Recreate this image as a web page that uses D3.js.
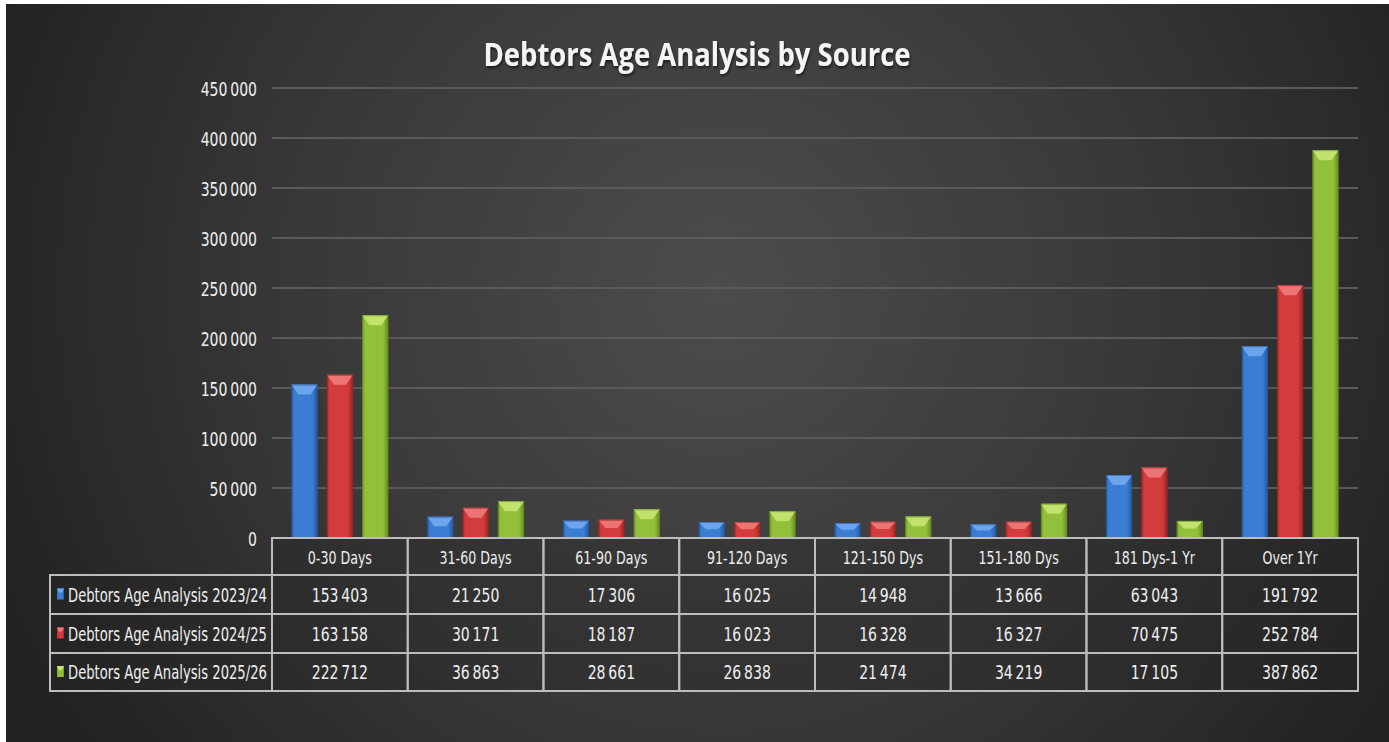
<!DOCTYPE html>
<html>
<head>
<meta charset="utf-8">
<script src="https://cdn.jsdelivr.net/npm/d3@7"></script>
<style>
  html, body { margin: 0; padding: 0; background: #fff; }
  svg { display: block; }
  .narrow { font-family: "DejaVu Sans Condensed", "DejaVu Sans", sans-serif; }
</style>
</head>
<body>
<div id="chart"></div>
<script>
const categories = ["0-30 Days", "31-60 Days", "61-90 Days", "91-120 Days", "121-150 Dys", "151-180 Dys", "181 Dys-1 Yr", "Over 1Yr"];
const seriesNames = ["Debtors Age Analysis 2023/24", "Debtors Age Analysis 2024/25", "Debtors Age Analysis 2025/26"];
const values2023 = [153403, 21250, 17306, 16025, 14948, 13666, 63043, 191792];
const values2024 = [163158, 30171, 18187, 16023, 16328, 16327, 70475, 252784];
const values2025 = [222712, 36863, 28661, 26838, 21474, 34219, 17105, 387862];
const yTicks = [0, 50000, 100000, 150000, 200000, 250000, 300000, 350000, 400000, 450000];
const seriesColors = [
  {base: "#3b7dd2", light: "#72aaf0", dark: "#24579f"},
  {base: "#d33c3c", light: "#f07a7a", dark: "#9a2424"},
  {base: "#92c03a", light: "#c6e672", dark: "#668b22"}
];

const allSeries = [values2023, values2024, values2025];
const W = 1389, H = 742;
const SX = 0.78;           // horizontal squeeze, the original font is a narrow one
const textFill = "#eeeeee";
const fmt = v => d3.format(",")(v).replace(/,/g, "\u2009");

const svg = d3.select("#chart").append("svg").attr("width", W).attr("height", H);
const defs = svg.append("defs");

const bg = defs.append("radialGradient").attr("id", "bg")
  .attr("gradientUnits", "userSpaceOnUse")
  .attr("cx", 720).attr("cy", 290).attr("r", 780);
bg.append("stop").attr("offset", "0%").attr("stop-color", "#4c4c4c");
bg.append("stop").attr("offset", "55%").attr("stop-color", "#383838");
bg.append("stop").attr("offset", "100%").attr("stop-color", "#222");

seriesColors.forEach((c, i) => {
  const g = defs.append("linearGradient").attr("id", "bar" + i)
    .attr("x1", 0).attr("x2", 1).attr("y1", 0).attr("y2", 0);
  g.append("stop").attr("offset", "0%").attr("stop-color", c.dark);
  g.append("stop").attr("offset", "10%").attr("stop-color", c.base);
  g.append("stop").attr("offset", "30%").attr("stop-color", c.base);
  g.append("stop").attr("offset", "80%").attr("stop-color", c.base);
  g.append("stop").attr("offset", "100%").attr("stop-color", c.dark);
});

const shadow = defs.append("filter").attr("id", "shadow").attr("x", "-10%").attr("y", "-30%").attr("width", "120%").attr("height", "160%");
shadow.append("feDropShadow").attr("dx", 1).attr("dy", 2).attr("stdDeviation", 1.5).attr("flood-color", "#000").attr("flood-opacity", 0.6);

svg.append("rect").attr("x", 6).attr("y", 4).attr("width", W - 6).attr("height", H - 4).attr("fill", "url(#bg)");

function narrowText(parent, x, y, str, size, anchor, fitWidth) {
  const t = parent.append("text").attr("class", "narrow")
    .attr("text-anchor", anchor)
    .attr("fill", textFill)
    .style("font-size", size + "px")
    .text(str);
  const sx = fitWidth ? fitWidth / t.node().getComputedTextLength() : SX;
  t.attr("transform", `translate(${x},${y}) scale(${sx},1)`);
  return t;
}

// title
const title = svg.append("text")
  .attr("text-anchor", "middle")
  .attr("fill", "#f4f4f4")
  .attr("filter", "url(#shadow)")
  .style("font-family", "'Open Sans', sans-serif")
  .style("font-weight", 700)
  .style("font-size", "32px")
  .text("Debtors Age Analysis by Source");
const titleScale = 427 / title.node().getComputedTextLength();
title.attr("transform", `translate(697,66) scale(${titleScale},1)`);

const plotLeft = 272, plotRight = 1358, plotTop = 88, plotBottom = 538;

const x = d3.scaleBand().domain(categories).range([plotLeft, plotRight]).padding(0);
const x1 = d3.scaleBand().domain([0, 1, 2]).range([0, x.bandwidth()]).paddingInner(0.26).paddingOuter(0.55);
const y = d3.scaleLinear().domain([0, 450000]).range([plotBottom, plotTop]);

// grid
svg.append("g").selectAll("line").data(yTicks.filter(t => t > 0)).join("line")
  .attr("x1", plotLeft).attr("x2", plotRight)
  .attr("y1", d => y(d)).attr("y2", d => y(d))
  .attr("stroke", "#5a5a5a").attr("stroke-width", 2);

// y axis labels
const yAxis = svg.append("g").attr("transform", `translate(${plotLeft},0)`)
  .call(d3.axisLeft(y).tickValues(yTicks).tickFormat(fmt).tickSize(0).tickPadding(0));
yAxis.select(".domain").remove();
yAxis.selectAll("text")
  .attr("class", "narrow")
  .attr("x", -15 / SX)
  .attr("dy", "0.36em")
  .attr("transform", `scale(${SX},1)`)
  .attr("fill", textFill)
  .style("font-size", "20px");

// bars
const groups = svg.append("g").selectAll("g").data(categories).join("g")
  .attr("transform", d => `translate(${x(d)},0)`);

groups.each(function(cat, ci) {
  const g = d3.select(this);
  allSeries.forEach((vals, si) => {
    const c = seriesColors[si];
    const bx = x1(si), bw = x1.bandwidth();
    const by = y(vals[ci]), bh = plotBottom - by;
    const bev = Math.min(10, bh * 0.45), ins = Math.min(8, bw * 0.27);
    g.append("rect")
      .attr("x", bx).attr("y", by).attr("width", bw).attr("height", bh)
      .attr("fill", `url(#bar${si})`);
    // top bevel
    g.append("path")
      .attr("d", `M${bx},${by} L${bx + bw},${by} L${bx + bw - ins},${by + bev} L${bx + ins},${by + bev} Z`)
      .attr("fill", c.light).attr("opacity", 0.9);
    // thin dark outline like the original's edge
    g.append("rect")
      .attr("x", bx + 0.5).attr("y", by + 0.5).attr("width", bw - 1).attr("height", bh - 0.5)
      .attr("fill", "none").attr("stroke", c.dark).attr("stroke-opacity", 0.6).attr("stroke-width", 1);
  });
});

// data table
const tableLeft = 50;
const rowEdges = [538, 575, 614, 653, 691];
const lineColor = "#bdbdbd";
const table = svg.append("g");

function cell(xp, y0, w, h) {
  table.append("rect").attr("x", xp).attr("y", y0).attr("width", w).attr("height", h)
    .attr("fill", "#262626").attr("fill-opacity", 0.35)
    .attr("stroke", lineColor).attr("stroke-width", 2);
}

categories.forEach(c => {
  cell(x(c), rowEdges[0], x.bandwidth(), rowEdges[1] - rowEdges[0]);
  narrowText(table, x(c) + x.bandwidth() / 2, (rowEdges[0] + rowEdges[1]) / 2 + 7, c, 18, "middle");
});

allSeries.forEach((vals, si) => {
  const y0 = rowEdges[si + 1], y1 = rowEdges[si + 2], cy = (y0 + y1) / 2;
  cell(tableLeft, y0, plotLeft - tableLeft, y1 - y0);
  // legend key
  table.append("rect").attr("x", 57).attr("y", cy - 6).attr("width", 7).attr("height", 11)
    .attr("fill", `url(#bar${si})`);
  table.append("path")
    .attr("d", `M57,${cy - 6} l7,0 l-2,4 l-3,0 Z`)
    .attr("fill", seriesColors[si].light);
  narrowText(table, 68, cy + 7, seriesNames[si], 20, "start", 199);
  categories.forEach((c, ci) => {
    cell(x(c), y0, x.bandwidth(), y1 - y0);
    narrowText(table, x(c) + x.bandwidth() / 2, cy + 7, fmt(vals[ci]), 20, "middle");
  });
});
</script>
</body>
</html>
